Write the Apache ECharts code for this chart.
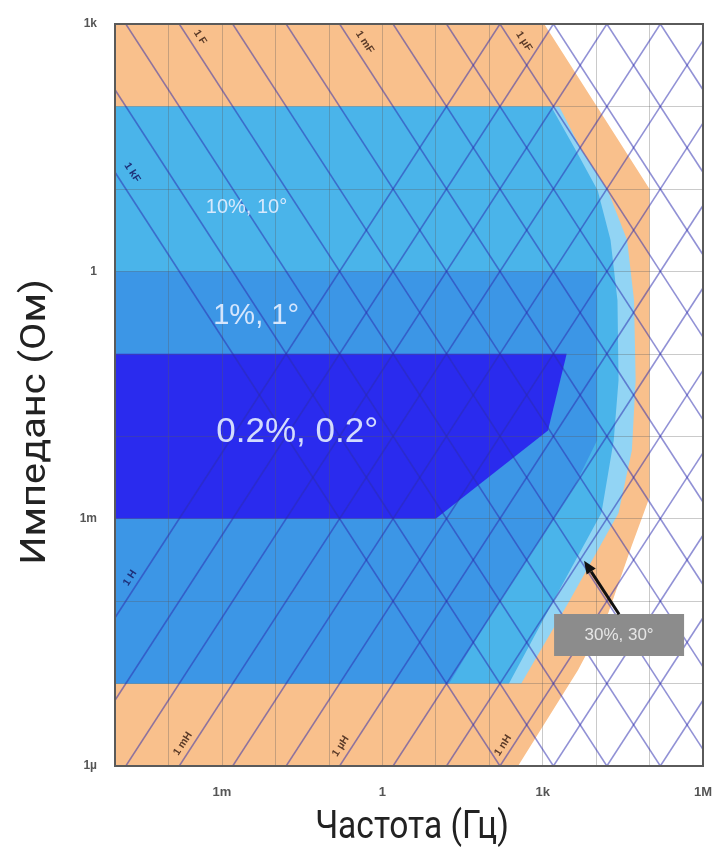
<!DOCTYPE html>
<html><head><meta charset="utf-8">
<script src="https://cdn.jsdelivr.net/npm/echarts@6/dist/echarts.min.js"></script>
<style>html,body{margin:0;padding:0;background:#fff}#c{width:720px;height:861px}</style>
</head><body><div id="c"></div>
<script>
// All positions are decades: [log10(f / Hz), log10(|Z| / Ohm)]
const xTickLabels = {'-3': '1m', '0': '1', '3': '1k', '6': '1M'};
const yTickLabels = {'3': '1k', '0': '1', '-3': '1m', '-6': '1µ'};

const outerRegion = [[-5,3],[3.03,3],[5,1],[5,-2.74],[4.66,-3.34],[4.23,-4.14],[3.66,-4.84],[2.54,-6],[-5,-6]];
const region30 = [[-5,2],[3.31,2],[3.73,1.47],[4.22,0.98],[4.58,0.38],[4.71,-0.35],[4.74,-1.32],[4.67,-2.17],[4.42,-2.93],[3.5,-4.0],[2.6,-5],[-5,-5]];
const region10 = [[-5,2],[3.16,2],[3.62,1.47],[4.03,0.98],[4.27,0.38],[4.4,-0.35],[4.42,-1.32],[4.33,-2.05],[4.1,-2.93],[3.2,-4.0],[2.37,-5],[-5,-5]];
const region1 = [[-5,0],[4.02,0],[4.02,-2.05],[3.6,-2.6],[2.05,-4.15],[1.25,-5],[-5,-5]];
const region02 = [[-5,-1],[3.45,-1],[3.1,-1.93],[1.0,-3],[-5,-3]];

// capacitance / inductance reference lines, exponents of 10 (F, H)
const capExponents = [3,2,1,0,-1,-2,-3,-4,-5,-6,-7,-8,-9];
const indExponents = [0,-1,-2,-3,-4,-5,-6,-7,-8,-9,-10,-11,-12];
const capLabels = [['1 kF',-4.68,1.20],['1 F',-3.41,2.84],['1 mF',-0.33,2.78],['1 µF',2.65,2.79]];
const indLabels = [['1 H',-4.72,-3.72],['1 mH',-3.73,-5.73],['1 µH',-0.78,-5.76],['1 nH',2.26,-5.75]];

const regionLabels = [['10%, 10°',-2.54,0.77,20],['1%, 1°',-2.36,-0.54,29],['0.2%, 0.2°',-1.59,-1.95,35]];
const calloutLabel = ['30%, 30°', 4.43, -4.41];
const calloutArrow = [[4.43,-4.16],[3.775,-3.51]];

const L2PI = Math.log10(2*Math.PI);
const xMin = -5, xMax = 6;

const chart = echarts.init(document.getElementById('c'));

function polySeries(pts, color) {
  return {type:'custom', z:2, silent:true, clip:true, data:[[0,0]],
    renderItem: (p, api) => ({type:'polygon', shape:{points: pts.map(q => api.coord(q))}, style:{fill:color}})};
}
const lineStyle = {color:'rgba(45,45,175,0.52)', width:1.6};
const series = [
  polySeries(outerRegion, '#f9c08c'),
  polySeries(region30, '#92d4f4'),
  polySeries(region10, '#4ab4ea'),
  polySeries(region1, '#3c96e6'),
  polySeries(region02, '#2a2bee'),
];
capExponents.forEach(k => {
  series.push({type:'line', z:4, silent:true, symbol:'none', lineStyle, clip:true,
    data:[[xMin, -xMin - L2PI - k],[xMax, -xMax - L2PI - k]]});
});
indExponents.forEach(k => {
  series.push({type:'line', z:4, silent:true, symbol:'none', lineStyle, clip:true,
    data:[[xMin, xMin + L2PI + k],[xMax, xMax + L2PI + k]]});
});
const ang = Math.atan(82.44/53.33);
series.push({type:'custom', z:6, silent:true, data:[[0,0]],
  renderItem: (p, api) => {
    const ch = [];
    capLabels.forEach(l => {
      const c = api.coord([l[1], l[2]]);
      ch.push({type:'text', x:c[0], y:c[1], rotation:-ang,
        style:{text:l[0], fill: l[2] > 2 ? '#5a3a28' : '#1e2f78', fontSize:10.5, fontWeight:'bold', fontFamily:'Arial', align:'center', verticalAlign:'middle'}});
    });
    indLabels.forEach(l => {
      const c = api.coord([l[1], l[2]]);
      ch.push({type:'text', x:c[0], y:c[1], rotation:ang,
        style:{text:l[0], fill: l[2] > -5 ? '#1e2f78' : '#5a3a28', fontSize:10.5, fontWeight:'bold', fontFamily:'Arial', align:'center', verticalAlign:'middle'}});
    });
    regionLabels.forEach(l => {
      const c = api.coord([l[1], l[2]]);
      ch.push({type:'text', x:c[0], y:c[1],
        style:{text:l[0], fill:'rgba(230,238,255,0.9)', fontSize:l[3], fontFamily:'Arial', align:'center', verticalAlign:'middle'}});
    });
    const bc = api.coord([calloutLabel[1], calloutLabel[2]]);
    ch.push({type:'rect', shape:{x:bc[0]-65, y:bc[1]-21, width:130, height:42}, style:{fill:'#8c8c8c'}});
    ch.push({type:'text', x:bc[0], y:bc[1], style:{text:calloutLabel[0], fill:'#e6e6e6', fontSize:17, fontFamily:'Arial', align:'center', verticalAlign:'middle'}});
    const a = api.coord(calloutArrow[0]), b = api.coord(calloutArrow[1]);
    const dx = b[0]-a[0], dy = b[1]-a[1], len = Math.hypot(dx,dy), ux = dx/len, uy = dy/len;
    const hl = 13, hw = 5.5;
    const base = [b[0]-ux*hl, b[1]-uy*hl];
    ch.push({type:'line', shape:{x1:a[0], y1:a[1], x2:base[0], y2:base[1]}, style:{stroke:'#111', lineWidth:3}});
    ch.push({type:'polygon', shape:{points:[b,[base[0]-uy*hw, base[1]+ux*hw],[base[0]+uy*hw, base[1]-ux*hw]]}, style:{fill:'#111'}});
    return {type:'group', children:ch};
  }});

chart.setOption({
  animation:false,
  grid:{left:115, right:17, top:24, bottom:95, show:true, z:8, borderColor:'#5a5a5a', borderWidth:2, backgroundColor:'transparent'},
  xAxis:{type:'value', min:-5, max:6, interval:1, z:3,
    axisLine:{show:false}, axisTick:{show:false},
    splitLine:{show:true, lineStyle:{color:'rgba(90,90,90,0.32)', width:1}},
    axisLabel:{margin:20, fontSize:13, fontWeight:'bold', color:'#555', fontFamily:'Arial',
      formatter: v => xTickLabels[String(Math.round(v))] || ''}},
  yAxis:{type:'value', min:-6, max:3, interval:1, z:3,
    axisLine:{show:false}, axisTick:{show:false},
    splitLine:{show:true, lineStyle:{color:'rgba(90,90,90,0.32)', width:1}},
    axisLabel:{margin:18, fontSize:12, fontWeight:'bold', color:'#555', fontFamily:'Arial',
      formatter: v => yTickLabels[String(Math.round(v))] || ''}},
  graphic:[
    {type:'text', x:36, y:422, rotation:Math.PI/2, scaleX:1.02, scaleY:0.92, style:{text:'Импеданс (Ом)', fill:'#222', fontSize:39, fontFamily:'Roboto', align:'center', verticalAlign:'middle'}},
    {type:'text', x:412, y:828, scaleX:0.86, style:{text:'Частота (Гц)', fill:'#222', fontSize:39, fontFamily:'Roboto', align:'center', verticalAlign:'middle'}}
  ],
  series
});
</script></body></html>
